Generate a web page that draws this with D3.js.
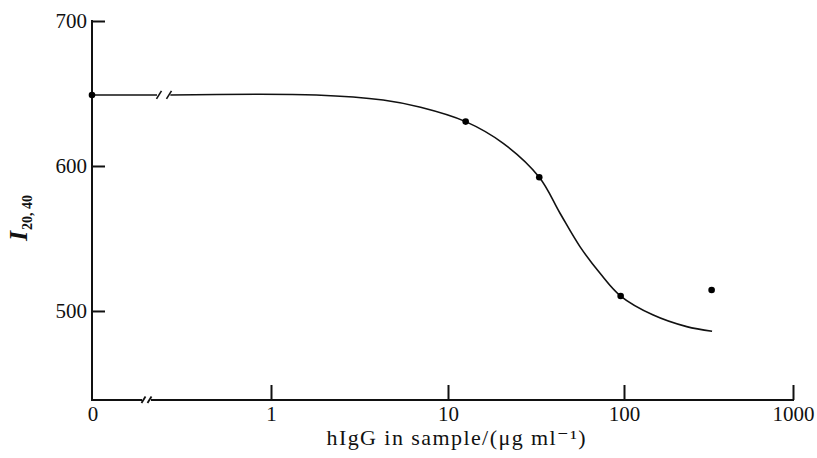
<!DOCTYPE html>
<html>
<head>
<meta charset="utf-8">
<script src="https://cdn.jsdelivr.net/npm/d3@7"></script>
<style>
  html, body { margin: 0; padding: 0; background: #fff; }
  svg { display: block; }
  text { font-family: "Liberation Serif", "DejaVu Serif", serif; fill: #111; }
</style>
</head>
<body>
<svg id="chart" width="817" height="458"></svg>
<script>
// ---- data ----
const pointConc  = [0, 12.6, 33, 95.7, 330];
const pointValue = [649, 630.6, 592.2, 510.3, 514.5];

const curveConc  = [0.27, 1.8, 4.3, 7.0, 12.6, 20.6, 33, 43.3, 56.2, 73.1, 95.7, 149, 235, 332];
const curveValue = [649, 649, 645.5, 640.5, 630.6, 615.6, 592.2, 567.4, 544.4, 526, 510.3, 497.2, 489.2, 486];

const xTickValues = [1, 10, 100, 1000];
const xTickLabels = ["1", "10", "100", "1000"];
const zeroLabel = "0";
const yTickValues = [500, 600, 700];
const yDomain = [438.6, 700];

const xTitle = "hIgG in sample/(μg ml⁻¹)";
const yTitleMain = "I";
const yTitleSub = "20, 40";

// ---- layout ----
const svg = d3.select("#chart");
const mLeft = 92, mTop = 21, mBottom = 400, mRight = 793;
const axisBreakX = 142;   // x-axis break position
const curveBreakX = 157;  // break on the zero-level line

const x = d3.scaleLog().domain([1, 10, 100, 1000]).range([271, 448, 624, mRight]);
const y = d3.scaleLinear().domain(yDomain).range([mBottom, mTop]);
const xPos = v => v === 0 ? mLeft : x(v);

const g = svg.append("g");
const stroke = "#111";

// y axis
const yAxis = d3.axisLeft(y).tickValues(yTickValues).tickSize(-13).tickPadding(6).tickSizeOuter(0);
const gy = g.append("g").attr("transform", `translate(${mLeft},0)`).call(yAxis);
gy.select(".domain").remove();
gy.selectAll(".tick line").attr("stroke", stroke).attr("stroke-width", 2);
gy.selectAll(".tick text").attr("font-size", 21).attr("font-family", "Liberation Serif").attr("fill", "#111")
  .attr("x", -5).attr("dy", "0.32em");
g.append("line").attr("x1", mLeft).attr("x2", mLeft).attr("y1", mTop - 1).attr("y2", mBottom + 1)
  .attr("stroke", stroke).attr("stroke-width", 2);

// x axis (log part)
const xAxis = d3.axisBottom(x).tickValues(xTickValues).tickFormat((d, i) => xTickLabels[i])
  .tickSize(-15).tickPadding(8).tickSizeOuter(0);
const gx = g.append("g").attr("transform", `translate(0,${mBottom})`).call(xAxis);
gx.select(".domain").remove();
gx.selectAll(".tick line").attr("stroke", stroke).attr("stroke-width", 2);
gx.selectAll(".tick text").attr("font-size", 21).attr("font-family", "Liberation Serif").attr("fill", "#111")
  .attr("y", 6).attr("dy", "0.71em");
// zero label
g.append("text").attr("x", mLeft + 1).attr("y", mBottom + 6).attr("dy", "0.71em")
  .attr("text-anchor", "middle").attr("font-size", 21).text(zeroLabel);

// x axis line with break
g.append("line").attr("x1", mLeft).attr("x2", axisBreakX).attr("y1", mBottom).attr("y2", mBottom)
  .attr("stroke", stroke).attr("stroke-width", 2);
g.append("line").attr("x1", axisBreakX + 9).attr("x2", mRight + 1).attr("y1", mBottom).attr("y2", mBottom)
  .attr("stroke", stroke).attr("stroke-width", 2);
[axisBreakX + 1.5, axisBreakX + 7.5].forEach(bx => {
  g.append("line").attr("x1", bx - 2).attr("y1", mBottom + 3).attr("x2", bx + 2).attr("y2", mBottom - 3.5)
    .attr("stroke", stroke).attr("stroke-width", 1.8);
});

// zero-level line with break
const yZero = y(pointValue[0]);
g.append("line").attr("x1", mLeft).attr("x2", curveBreakX).attr("y1", yZero).attr("y2", yZero)
  .attr("stroke", stroke).attr("stroke-width", 1.6);
[curveBreakX + 2, curveBreakX + 12].forEach(bx => {
  g.append("line").attr("x1", bx - 2.5).attr("y1", yZero + 4).attr("x2", bx + 2.5).attr("y2", yZero - 4)
    .attr("stroke", stroke).attr("stroke-width", 1.6);
});

// fitted curve
const curveData = curveConc.map((c, i) => [c, curveValue[i]]);
const line = d3.line().x(d => x(d[0])).y(d => y(d[1])).curve(d3.curveCatmullRom.alpha(0.5));
g.append("path").datum(curveData).attr("d", line)
  .attr("fill", "none").attr("stroke", stroke).attr("stroke-width", 1.6);

// points
const pts = pointConc.map((c, i) => [c, pointValue[i]]);
g.selectAll("circle.pt").data(pts).join("circle").attr("class", "pt")
  .attr("cx", d => xPos(d[0])).attr("cy", d => y(d[1])).attr("r", 3.3).attr("fill", "#000");

// x title
g.append("text").attr("x", 456).attr("y", 445).attr("text-anchor", "middle")
  .attr("font-size", 22).attr("textLength", 259).attr("lengthAdjust", "spacing").text(xTitle);

// y title
const yt = g.append("text").attr("transform", `translate(27,218) rotate(-90)`).attr("text-anchor", "middle");
yt.append("tspan").attr("font-style", "italic").attr("font-weight", "bold").attr("font-size", 26).text(yTitleMain);
yt.append("tspan").attr("font-weight", "bold").attr("font-size", 14).attr("dy", 5).attr("dx", 1).text(yTitleSub);
</script>
</body>
</html>
